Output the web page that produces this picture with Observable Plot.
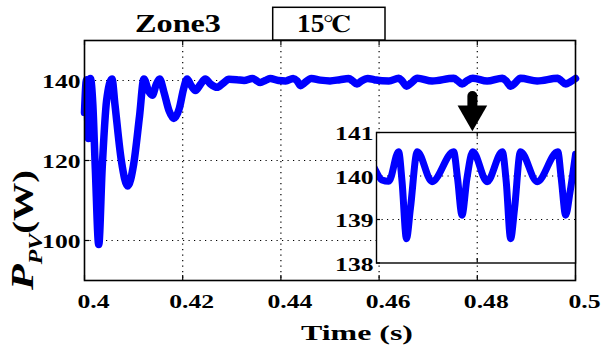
<!DOCTYPE html>
<html><head><meta charset="utf-8">
<script src="https://cdn.jsdelivr.net/npm/d3@7"></script>
<script src="https://cdn.jsdelivr.net/npm/@observablehq/plot@0.6"></script>
<style>
html,body{margin:0;padding:0;background:#fff;}
#wrap{position:relative;width:603px;height:345px;overflow:hidden;background:#fff;}
#wrap svg{position:absolute;overflow:visible;}
#wrap text{font-family:"Liberation Serif","LiberationSerif","Tinos","Times New Roman","Nimbus Roman","FreeSerif","DejaVu Serif",serif;}
</style></head><body><div id="wrap"></div>
<script>
// ---- data ----
const time = [0.4000,0.4004,0.4008,0.4012,0.4017,0.4022,0.4029,0.4036,0.4045,0.4056,
  0.4062,0.4075,0.4088,0.4100,0.4112,0.4121,0.4130,0.4138,0.4146,0.4153,
  0.4162,0.4172,0.4182,0.4193,0.4202,0.4209,0.4217,0.4226,0.4236,0.4246,
  0.4256,0.4270,0.4282,0.4294,0.4310,0.4325,0.4342,0.4358,0.4368,0.4378,
  0.4395,0.4410,0.4425,0.4433,0.4440,0.4447,0.4462,0.4480,0.4500,0.4520,
  0.4538,0.4546,0.4555,0.4564,0.4577,0.4590,0.4606,0.4620,0.4640,0.4647,
  0.4656,0.4664,0.4678,0.4708,0.4752,0.4760,0.4769,0.4779,0.4791,0.4820,
  0.4851,0.4859,0.4868,0.4876,0.4888,0.4922,0.4964,0.4971,0.4980,0.4989,0.5000];
const power = [132,140.2,125.5,140.5,134,118,99,118,135,140.4,
  134,120,113.6,119,131,140.4,137.5,136.3,139,140.4,
  137,132.5,130.5,133,138,140.4,138.8,137.5,139,140.4,
  139.2,138.3,139.3,140.3,140.2,140.0,140.5,139.5,140.0,140.5,
  140.0,139.9,140.5,139.9,138.7,139.3,140.5,140.1,139.9,140.2,
  140.5,139.9,139.1,139.9,140.5,140.2,139.91,139.88,140.56,139.87,
  138.56,139.25,140.56,139.87,140.56,139.94,139.10,139.94,140.56,139.87,
  140.56,139.87,138.56,139.25,140.56,139.87,140.56,139.94,139.10,139.64,140.5];

const xTicks = [0.4, 0.42, 0.44, 0.46, 0.48, 0.5];
const xTickLabels = ["0.4", "0.42", "0.44", "0.46", "0.48", "0.5"];
const yTicks = [100, 120, 140];
const yTickLabels = ["100", "120", "140"];
const insetYTicks = [138, 139, 140, 141];
const insetYTickLabels = ["138", "139", "140", "141"];
const insetXTicks = [0.48];
const xDomain = [0.4, 0.5];
const yDomain = [90, 150];
const insetXDomain = [0.4595, 0.5];
const insetYDomain = [138, 141];
const titleText = "Zone3";
const tempText = "15℃";
const xLabel = "Time (s)";
const yLabelMain = "P", yLabelSub = "PV", yLabelUnit = "(W)";
const arrowX = [0.479];
const arrowShaft = [136.1, 132.8];
const arrowHead = [131.6];

// ---- build ----
const data = time.map((t, i) => ({t, p: power[i]}));
const font = "'Liberation Serif','Tinos','Times New Roman','DejaVu Serif',serif";
const blue = "#0000ff";
const gridStyle = {stroke: "#000", strokeOpacity: 1, strokeWidth: 1.2, strokeDasharray: "1.2,4.3"};
const tickStyle = {stroke: "#000", strokeWidth: 1.2};

const main = Plot.plot({
  width: 603, height: 345,
  marginLeft: 84, marginRight: 28, marginTop: 40, marginBottom: 65,
  style: {fontFamily: font, background: "transparent", overflow: "visible"},
  x: {domain: xDomain},
  y: {domain: yDomain},
  marks: [
    Plot.gridX(xTicks.slice(1, -1), gridStyle),
    Plot.gridY(yTicks, gridStyle),
    Plot.tickX(xTicks, {x: d => d, insetTop: 235, ...tickStyle}),
    Plot.tickX(xTicks, {x: d => d, insetBottom: 235, ...tickStyle}),
    Plot.tickY(yTicks, {y: d => d, insetRight: 486, ...tickStyle}),
    Plot.tickY(yTicks, {y: d => d, insetLeft: 486, ...tickStyle}),
    Plot.line(data, {x: "t", y: "p", stroke: blue, strokeWidth: 7.5, curve: "monotone-x",
      strokeLinejoin: "round", strokeLinecap: "round"}),
    Plot.axisX(xTicks, {tickSize: 0, tickPadding: 14, tickFormat: d => xTickLabels[xTicks.indexOf(d)],
      fontSize: 18.5, fontWeight: "bold", dx: 9, label: null, fill: "#000"}),
    Plot.axisY(yTicks, {tickSize: 0, tickPadding: 4, tickFormat: d => yTickLabels[yTicks.indexOf(d)],
      fontSize: 18.5, fontWeight: "bold", dy: 2, label: null, fill: "#000"}),
    Plot.frame({stroke: "#000", strokeWidth: 1.6}),
    Plot.line(arrowShaft.map(v => ({x: arrowX[0], y: v})), {x: "x", y: "y", stroke: "#000", strokeWidth: 10, strokeLinecap: "round"}),
    Plot.dot(arrowHead.map(v => ({x: arrowX[0], y: v})), {x: "x", y: "y", symbol: "triangle", rotate: 180, r: 11, fill: "#000", stroke: "none"})
  ]
});

const inset = Plot.plot({
  width: 250, height: 145,
  marginLeft: 46, marginRight: 5, marginTop: 7, marginBottom: 7.5,
  style: {fontFamily: font, background: "transparent", overflow: "visible"},
  x: {domain: insetXDomain, axis: null},
  y: {domain: insetYDomain},
  marks: [
    Plot.frame({fill: "#fff", stroke: "none"}),
    Plot.gridX(insetXTicks, gridStyle),
    Plot.gridY(insetYTicks.slice(1, -1), gridStyle),
    Plot.tickX(insetXTicks, {x: d => d, insetTop: 126, ...tickStyle}),
    Plot.tickX(insetXTicks, {x: d => d, insetBottom: 126, ...tickStyle}),
    Plot.tickY(insetYTicks, {y: d => d, insetRight: 195, ...tickStyle}),
    Plot.line(data.filter(d => d.t >= insetXDomain[0] - 0.002), {x: "t", y: "p", stroke: blue, strokeWidth: 7,
      curve: "monotone-x", strokeLinejoin: "round", strokeLinecap: "round", clip: true}),
    Plot.axisY(insetYTicks, {tickSize: 0, tickPadding: 3, tickFormat: d => insetYTickLabels[insetYTicks.indexOf(d)],
      fontSize: 18.5, fontWeight: "bold", dy: 2, label: null, fill: "#000"}),
    Plot.frame({stroke: "#000", strokeWidth: 1.4})
  ]
});

const wrap = document.getElementById("wrap");
main.style.left = "0px"; main.style.top = "0px";
inset.style.left = "330px"; inset.style.top = "125px";
wrap.appendChild(main);
wrap.appendChild(inset);

// widen tick labels to the reference's wide glyph proportions
function widenTicks(svg) {
  svg.querySelectorAll("text").forEach(t => {
    const str = t.textContent;
    const digits = (str.match(/[0-9]/g) || []).length;
    const dots = (str.match(/\./g) || []).length;
    t.setAttribute("textLength", (digits * 12.8 + dots * 6.5).toFixed(1));
    t.setAttribute("lengthAdjust", "spacingAndGlyphs");
  });
}
widenTicks(main);
widenTicks(inset);

// titles and labels
const s = d3.select(main);
const fixLen = (sel, len) => sel.attr("textLength", len).attr("lengthAdjust", "spacingAndGlyphs");

fixLen(s.append("text").attr("x", 178).attr("y", 31.5)
  .attr("font-size", 24.5).attr("font-weight", "bold").attr("fill", "#000")
  .text(titleText), 86);

s.append("rect").attr("x", 272.7).attr("y", 7.3).attr("width", 112.3).attr("height", 32.7)
  .attr("fill", "#fff").attr("stroke", "#000").attr("stroke-width", 1.5);
fixLen(s.append("text").attr("x", 324.5).attr("y", 32).attr("text-anchor", "middle")
  .attr("font-size", 24.5).attr("font-weight", "bold").attr("fill", "#000")
  .text(tempText), 55);

fixLen(s.append("text").attr("x", 357).attr("y", 339.5).attr("text-anchor", "middle")
  .attr("font-size", 21.5).attr("font-weight", "bold").attr("fill", "#000")
  .text(xLabel), 112);

const yl = s.append("text").attr("transform", "translate(33,230) rotate(-90)")
  .attr("font-weight", "bold").attr("fill", "#000");
yl.append("tspan").attr("font-style", "italic").attr("font-size", 32).text(yLabelMain);
yl.append("tspan").attr("font-style", "italic").attr("font-size", 18).attr("dy", 9).text(yLabelSub);
yl.append("tspan").attr("font-size", 29).attr("dy", -9).text(yLabelUnit);
fixLen(yl, 120);
</script></body></html>
